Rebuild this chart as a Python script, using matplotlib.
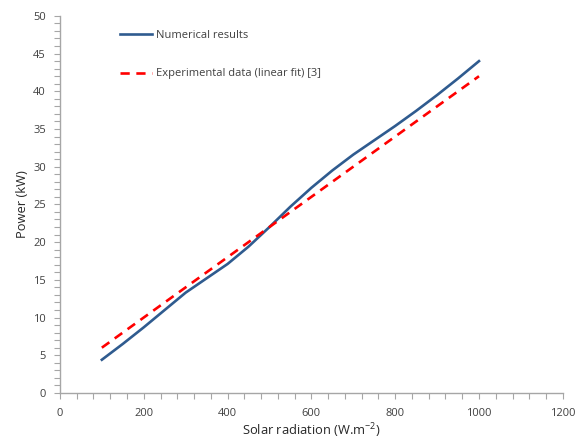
import matplotlib.pyplot as plt
from matplotlib.ticker import MultipleLocator

# values
radiation = [100, 150, 200, 250, 300, 350, 400, 450, 500, 550,
             600, 650, 700, 750, 800, 850, 900, 950, 1000]
power_numerical = [4.4, 6.5, 8.7, 11.0, 13.3, 15.2, 17.1, 19.4, 22.0, 24.7,
                   27.2, 29.5, 31.6, 33.5, 35.4, 37.4, 39.5, 41.7, 44.0]
radiation_fit = [100, 1000]
power_fit = [6.0, 42.0]

plt.rcParams['font.family'] = ['Open Sans', 'DejaVu Sans']
plt.rcParams['mathtext.default'] = 'regular'

fig = plt.figure(figsize=(5.82, 4.41), dpi=100)
ax = fig.add_axes([0.103, 0.109, 0.864, 0.855])

ax.plot(radiation, power_numerical, color='#2f5b8f', lw=1.9, label='Numerical results')
ax.plot(radiation_fit, power_fit, color='#ff0000', lw=1.9, ls=(0, (3.5, 2.5)),
        label='Experimental data (linear fit) [3]')

ax.set_xlim(0, 1200)
ax.set_ylim(0, 50)
ax.xaxis.set_major_locator(MultipleLocator(200))
ax.xaxis.set_minor_locator(MultipleLocator(40))
ax.yaxis.set_major_locator(MultipleLocator(5))
ax.yaxis.set_minor_locator(MultipleLocator(1))

for side in ['top', 'right']:
    ax.spines[side].set_visible(False)
for side in ['left', 'bottom']:
    ax.spines[side].set_color('#a6a6a6')
    ax.spines[side].set_linewidth(1)

ax.tick_params(which='both', direction='out', color='#a6a6a6', length=4, width=0.8)
ax.tick_params(which='major', labelsize=8, labelcolor='#404040')
ax.tick_params(axis='x', which='major', pad=6.5)
ax.tick_params(axis='y', which='major', pad=6)

ax.set_xlabel('Solar radiation (W.m$^{-2}$)', fontsize=9.3, color='#262626', labelpad=2)
ax.set_ylabel('Power (kW)', fontsize=9.3, color='#262626', labelpad=3)

leg = ax.legend(loc='upper left', bbox_to_anchor=(0.1, 0.99), frameon=False,
                fontsize=8, labelspacing=2.5, handlelength=2.9, handletextpad=0.3)
for t in leg.get_texts():
    t.set_color('#404040')

fig.savefig('out.png', dpi=100)
